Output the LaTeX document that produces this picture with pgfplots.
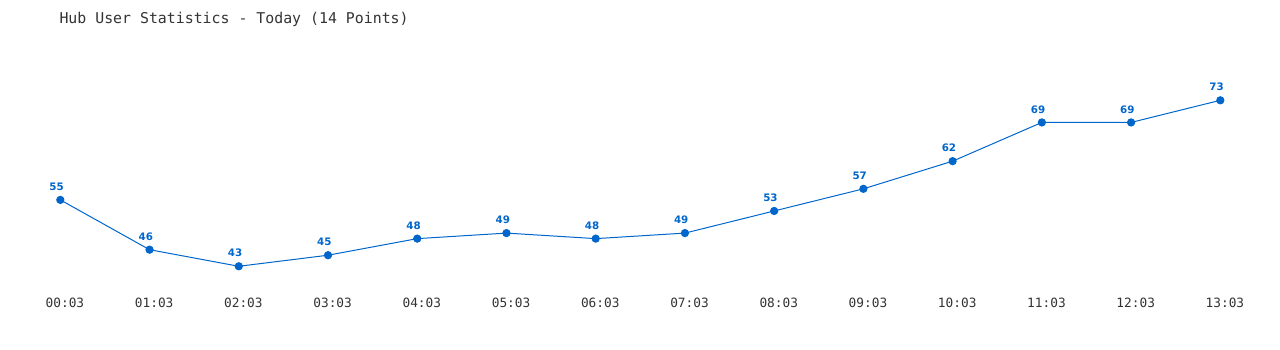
\documentclass[border=0pt]{standalone}
\usepackage{fontspec}
\usepackage{pgfplots}
\pgfplotsset{compat=1.18}
\newfontfamily\monofont{DejaVu Sans Mono}
\newfontfamily\labfont{DejaVu Sans Bold}
\definecolor{lineblue}{HTML}{0066CC}
\definecolor{txtgray}{HTML}{333333}
\begin{document}
\begin{tikzpicture}
\begin{axis}[
  width=1280pt, height=350pt, scale only axis,
  xmin=-0.676, xmax=13.669,
  ymin=27.87, ymax=91.13,
  axis line style={draw=none},
  ytick=\empty,
  xtick={0,...,13},
  xticklabels={00:03,01:03,02:03,03:03,04:03,05:03,06:03,07:03,08:03,09:03,10:03,11:03,12:03,13:03},
  major tick length=0pt,
  xticklabel style={font=\monofont\fontsize{12.8}{14}\selectfont, text=txtgray, anchor=center, yshift=46.7pt, xshift=4.6pt, inner sep=0pt},
  clip=false,
  point meta=explicit symbolic,
  nodes near coords,
  every node near coord/.style={font=\labfont\fontsize{10.3}{12}\selectfont, text=lineblue, anchor=center, yshift=13.1pt, xshift=-3.7pt, inner sep=0pt},
]
\addplot[color=lineblue, line width=1pt, mark=*, mark size=3.6pt, mark options={fill=lineblue, draw=none}]
coordinates {
(0,55)[55] (1,46)[46] (2,43)[43] (3,45)[45] (4,48)[48] (5,49)[49] (6,48)[48]
(7,49)[49] (8,53)[53] (9,57)[57] (10,62)[62] (11,69)[69] (12,69)[69] (13,73)[73]
};
\end{axis}
\node[anchor=base west, inner sep=0pt, font=\monofont\fontsize{14.87}{17}\selectfont, text=txtgray] at (59.3pt,326.7pt) {Hub User Statistics - Today (14 Points)};
\pgfresetboundingbox
\path (0,0) rectangle (1280pt,350pt);
\end{tikzpicture}
\end{document}
